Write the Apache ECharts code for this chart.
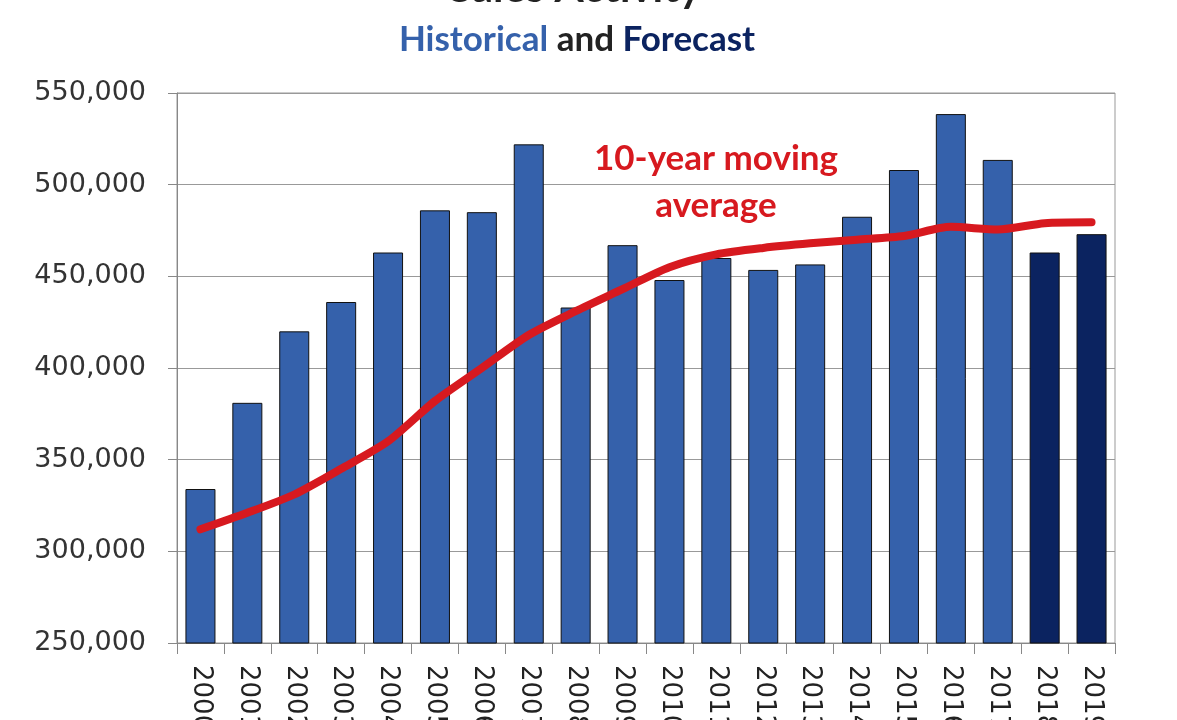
<!DOCTYPE html>
<html>
<head>
<meta charset="utf-8">
<script src="https://cdn.jsdelivr.net/npm/echarts@6/dist/echarts.min.js"></script>
<style>
    html, body { margin: 0; padding: 0; background: #fff; }
    #chart { width: 1177px; height: 720px; }
</style>
</head>
<body>
<div id="chart"></div>
<script>
// 年份
const years = ['2000', '2001', '2002', '2003', '2004', '2005', '2006', '2007', '2008', '2009',
    '2010', '2011', '2012', '2013', '2014', '2015', '2016', '2017', '2018', '2019'];

// 销售量（2018、2019 为预测）
const sales = [334000, 381000, 420000, 436000, 463000, 486000, 485000, 522000, 433000, 467000,
    448000, 460000, 453500, 456500, 482500, 508000, 538500, 513500, 463000, 473000];
const forecastYears = ['2018', '2019'];

// 10年移动平均
const movingAvg = [312000, 321000, 331000, 345000, 360000, 382000, 400000, 418000, 431000, 443000,
    455000, 462000, 465500, 468000, 470000, 472000, 477000, 475500, 479000, 479500];

const yTicks = [250000, 300000, 350000, 400000, 450000, 500000, 550000];

const HIST_COLOR = '#3561ab';
const FORE_COLOR = '#0b2360';
const RED = '#d7191f';

let barData = sales.map((v, i) => {
    return {
        value: v,
        itemStyle: {
            color: forecastYears.indexOf(years[i]) >= 0 ? FORE_COLOR : HIST_COLOR,
        },
    };
});

let chart = echarts.init(document.getElementById('chart'));
let option = {
    animation: false,
    backgroundColor: '#fff',
    grid: {
        left: 177,
        right: 62,
        top: 93,
        bottom: 77,
        outerBoundsMode: 'none',
        containLabel: false,
        show: true,
        borderColor: '#999',
        borderWidth: 1,
    },
    xAxis: {
        type: 'category',
        data: years,
        axisLine: { lineStyle: { color: '#888', width: 1 } },
        axisTick: { show: true, length: 11, lineStyle: { color: '#888' } },
        axisLabel: {
            rotate: -90,
            margin: 22,
            fontFamily: 'DejaVu Sans',
            fontSize: 26,
            color: '#222',
        },
    },
    yAxis: {
        type: 'value',
        min: yTicks[0],
        max: yTicks[yTicks.length - 1],
        interval: 50000,
        axisLine: { show: true, lineStyle: { color: '#888' } },
        axisTick: { show: true, length: 9, lineStyle: { color: '#888' } },
        splitLine: { lineStyle: { color: '#999', width: 1 } },
        axisLabel: {
            margin: 31,
            fontFamily: 'DejaVu Sans',
            fontSize: 27,
            color: '#333',
            formatter: (v) => v.toLocaleString('en-US'),
        },
    },
    series: [
        {
            name: 'Sales',
            type: 'bar',
            data: barData,
            barCategoryGap: '36%',
            itemStyle: { borderColor: '#111', borderWidth: 1 },
            z: 2,
        },
        {
            name: '10-year moving average',
            type: 'line',
            data: movingAvg,
            smooth: 0.25,
            symbol: 'none',
            lineStyle: { color: RED, width: 8, cap: 'round', join: 'round' },
            z: 3,
        },
    ],
    graphic: [
        {
            type: 'text',
            x: 575,
            y: -12,
            style: {
                text: 'Sales Activity',
                font: 'bold 42px Lato',
                fill: '#222',
                align: 'center',
                verticalAlign: 'middle',
            },
        },
        {
            type: 'text',
            x: 577,
            y: 40,
            style: {
                text: '{h|Historical }{a|and }{f|Forecast}',
                align: 'center',
                verticalAlign: 'middle',
                rich: {
                    h: { font: 'bold 35px Lato', fill: HIST_COLOR },
                    a: { font: 'bold 35px Lato', fill: '#222' },
                    f: { font: 'bold 35px Lato', fill: FORE_COLOR },
                },
            },
        },
        {
            type: 'text',
            x: 716,
            y: 182,
            z: 10,
            style: {
                text: '10-year moving\naverage',
                font: 'bold 35px Lato',
                lineHeight: 47,
                fill: RED,
                align: 'center',
                verticalAlign: 'middle',
            },
        },
    ],
};
chart.setOption(option);
</script>
</body>
</html>
